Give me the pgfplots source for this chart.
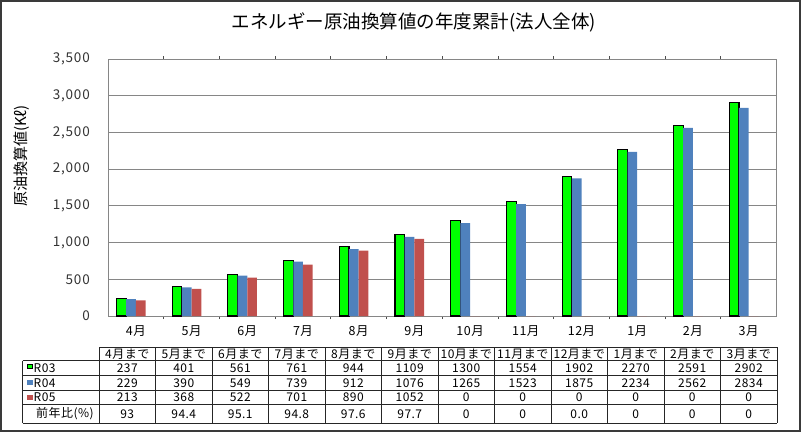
\documentclass[border=0pt]{standalone}
\usepackage{pgfplots}
\pgfplotsset{compat=1.18}
\usepackage{pgfplotstable}
\usepackage{fontspec}
\setmainfont{Noto Sans CJK JP}

\definecolor{gR03}{HTML}{00FF00}
\definecolor{bR04}{HTML}{4F81BD}
\definecolor{rR05}{HTML}{C0504D}
\definecolor{gridc}{HTML}{868686}
\definecolor{framec}{HTML}{3A3A3A}

\pgfplotstableread{
x r03 r04 r05 ratio
0 237 229 213 93
1 401 390 368 94.4
2 561 549 522 95.1
3 761 739 701 94.8
4 944 912 890 97.6
5 1109 1076 1052 97.7
6 1300 1265 0 0
7 1554 1523 0 0
8 1902 1875 0 0.0
9 2270 2234 0 0
10 2591 2562 0 0
11 2902 2834 0 0
}\data

\newcommand\tabfont{\fontsize{12}{12}\selectfont\addfontfeature{LetterSpace=4}}

\begin{document}
\begin{tikzpicture}[x=1pt,y=1pt]
\path[use as bounding box] (0,0) rectangle (803,432);
\draw[line width=2pt, framec] (1,1.5) rectangle (799.5,431);

\begin{axis}[
  at={(108pt,116pt)}, anchor=south west,
  scale only axis, width=668.5pt, height=257pt,
  xmin=-0.5, xmax=11.5, ymin=0, ymax=3500,
  ytick={0,500,...,3500},
  xtick={0,...,11},
  xticklabels={4月,5月,6月,7月,8月,9月,10月,11月,12月,1月,2月,3月},
  minor xtick={0.5,1.5,...,10.5},
  major tick length=0pt,
  minor tick length=3pt,
  tick align=inside,
  minor tick style={black!70, line width=0.8pt},
  ymajorgrids,
  grid style={gridc, line width=0.9pt},
  axis line style={gridc, line width=0.9pt},
  tick label style={font=\fontsize{13.5}{13.5}\selectfont\addfontfeature{LetterSpace=6}},
  xticklabel style={inner sep=0pt, yshift=-9pt, font=\fontsize{12.5}{12.5}\selectfont\addfontfeature{LetterSpace=4}},
  yticklabel style={inner sep=0pt, xshift=-18pt, text=black!80},
  /pgf/number format/.cd, 1000 sep={,}, assume math mode=true,
  /pgfplots/.cd,
  ybar, bar width=9.7pt,
]
\addplot[bar shift=-14.55pt, fill=gR03, draw=black, line width=1.1pt] table[x=x, y=r03] {\data};
\addplot[bar shift=-4.85pt, fill=bR04, draw=none] table[x=x, y=r04] {\data};
\addplot[bar shift=4.85pt, fill=rR05, draw=none] table[x=x, y=r05] {\data};
\end{axis}

% title and y label
\node[font=\fontsize{18.5}{18.5}\selectfont] at (414,410) {エネルギー原油換算値の年度累計(法人全体)};
\node[rotate=90, font=\fontsize{15}{15}\selectfont] at (22,156+120) {原油換算値(Kℓ)};

% table grid
\begin{scope}[draw=black!85, line width=0.8pt]
\draw (99,85) -- (777,85);
\draw (22.7,71.3) -- (777,71.3);
\draw (22.7,56.3) -- (777,56.3);
\draw (22.7,42) -- (777,42);
\draw (22.7,27.3) -- (777,27.3);
\draw (22.7,8.7) -- (777,8.7);
\draw (22.7,71.3) -- (22.7,8.7);
\foreach \i in {0,...,12} { \draw (99+56.5*\i,85) -- (99+56.5*\i,8.7); }
\end{scope}

% row headers
\filldraw[fill=gR03, draw=black, line width=0.9pt] (27.3,63.4) rectangle (32.6,68);
\fill[bR04] (27.3,47.3) rectangle (32.6,51.8);
\fill[rR05] (27.3,32.5) rectangle (32.6,37);
\node[font=\tabfont, anchor=west, inner sep=0pt] at (33.5,63.8) {R03};
\node[font=\tabfont, anchor=west, inner sep=0pt] at (33.5,49.2) {R04};
\node[font=\tabfont, anchor=west, inner sep=0pt] at (33.5,34.7) {R05};
\node[font=\tabfont] at (65,18) {前年比(\%)};

% header labels
\foreach \m [count=\c from 0] in {4,5,6,7,8,9,10,11,12,1,2,3} {
  \node[font=\tabfont] at (127.25+56.5*\c,78) {\m 月まで};
}

% table values
\foreach \c in {0,...,11} {
  \pgfplotstablegetelem{\c}{r03}\of\data
  \node[font=\tabfont] at (127.25+56.5*\c,63.8) {\pgfplotsretval};
  \pgfplotstablegetelem{\c}{r04}\of\data
  \node[font=\tabfont] at (127.25+56.5*\c,49.2) {\pgfplotsretval};
  \pgfplotstablegetelem{\c}{r05}\of\data
  \node[font=\tabfont] at (127.25+56.5*\c,34.7) {\pgfplotsretval};
  \pgfplotstablegetelem{\c}{ratio}\of\data
  \node[font=\tabfont] at (127.25+56.5*\c,18) {\pgfplotsretval};
}
\end{tikzpicture}
\end{document}
